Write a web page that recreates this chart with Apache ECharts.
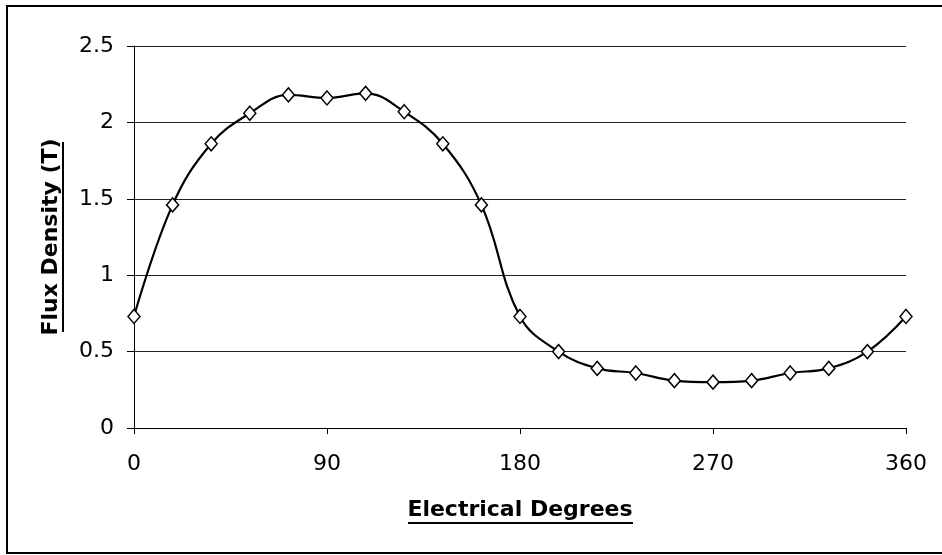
<!DOCTYPE html>
<html>
<head>
<meta charset="utf-8">
<script src="https://cdn.jsdelivr.net/npm/echarts@6/dist/echarts.min.js"></script>
<style>
  html, body { margin: 0; padding: 0; background: #fff; }
  #chart { width: 942px; height: 555px; }
</style>
</head>
<body>
<div id="chart"></div>
<script>
// electrical degrees (every 18 deg) and flux density in T
var degrees = [0, 18, 36, 54, 72, 90, 108, 126, 144, 162, 180,
  198, 216, 234, 252, 270, 288, 306, 324, 342, 360]
var fluxDensity = [0.73, 1.46, 1.86, 2.06, 2.18, 2.16, 2.19, 2.07, 1.86, 1.46, 0.73,
  0.50, 0.39, 0.36, 0.31, 0.30, 0.31, 0.36, 0.39, 0.50, 0.73]
var xTicks = [0, 90, 180, 270, 360]
var yTicks = [0, 0.5, 1, 1.5, 2, 2.5]

var chart = echarts.init(document.getElementById('chart'))

var points = degrees.map(function(d, i) {
  return [d, fluxDensity[i]]
})

var labelFont = {
  fontFamily: 'DejaVu Sans',
  fontSize: 22,
  color: '#000'
}

var titleFont = {
  fontFamily: 'DejaVu Sans',
  fontSize: 22,
  fontWeight: 'bold',
  color: '#000'
}

chart.setOption({
  animation: false,
  backgroundColor: '#fff',
  grid: { left: 134, right: 36, top: 46, bottom: 127 },
  xAxis: {
    type: 'value',
    min: xTicks[0],
    max: xTicks[xTicks.length - 1],
    interval: 90,
    name: 'Electrical Degrees',
    nameLocation: 'middle',
    nameGap: 71,
    nameTextStyle: titleFont,
    axisLine: { show: true, lineStyle: { color: '#000', width: 1 } },
    axisTick: { show: true, inside: false, length: 6, lineStyle: { color: '#000' } },
    axisLabel: Object.assign({ margin: 25 }, labelFont),
    splitLine: { show: false }
  },
  yAxis: {
    type: 'value',
    min: yTicks[0],
    max: yTicks[yTicks.length - 1],
    interval: 0.5,
    name: 'Flux Density (T)',
    nameLocation: 'middle',
    nameGap: 72,
    nameRotate: 90,
    nameTextStyle: titleFont,
    axisLine: { show: true, lineStyle: { color: '#000', width: 1 } },
    axisTick: { show: true, inside: false, length: 7, lineStyle: { color: '#000' } },
    axisLabel: Object.assign({ margin: 20 }, labelFont),
    splitLine: { show: true, lineStyle: { color: '#222', width: 1 } }
  },
  series: [{
    type: 'line',
    data: points,
    smooth: 0.4,
    symbol: 'diamond',
    symbolSize: [12, 14],
    lineStyle: { color: '#000', width: 2.2 },
    itemStyle: { color: '#fff', borderColor: '#000', borderWidth: 1.5 }
  }],
  graphic: [
    // outer chart border (right edge is cut off in the original)
    { type: 'rect', shape: { x: 7, y: 6, width: 960, height: 547 },
      style: { fill: null, stroke: '#000', lineWidth: 2 }, silent: true },
    // underline for x axis title
    { type: 'line', shape: { x1: 408, y1: 523, x2: 633, y2: 523 },
      style: { stroke: '#000', lineWidth: 2 } },
    // underline for y axis title
    { type: 'line', shape: { x1: 63, y1: 142, x2: 63, y2: 332 },
      style: { stroke: '#000', lineWidth: 2 } }
  ]
})
</script>
</body>
</html>
